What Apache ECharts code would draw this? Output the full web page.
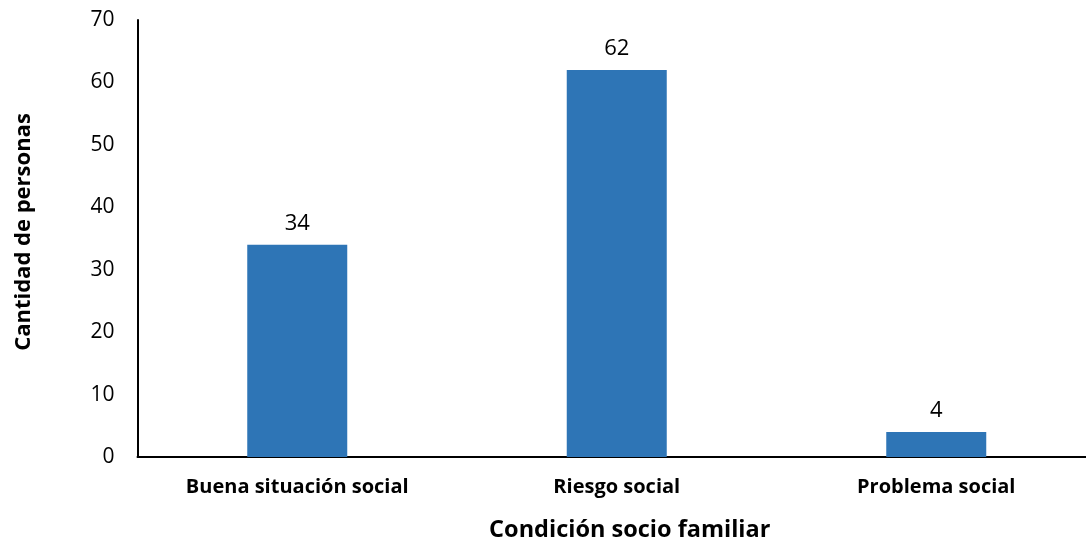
<!DOCTYPE html>
<html><head><meta charset="utf-8">
<script src="https://cdn.jsdelivr.net/npm/echarts@6/dist/echarts.min.js"></script>
<style>html,body{margin:0;padding:0;background:#fff}#c{width:1086px;height:537px}</style>
</head><body><div id="c"></div>
<script>
const categories = ["Buena situación social", "Riesgo social", "Problema social"];
const values = [34, 62, 4];
const yTicks = { min: 0, max: 70, interval: 10 };
const xTitle = "Condición socio familiar";
const yTitle = "Cantidad de personas";

const font = "'Open Sans', sans-serif";
const chart = echarts.init(document.getElementById('c'), null, {renderer: 'canvas'});
chart.setOption({
  animation: false,
  grid: { left: 137.5, right: -10, top: 20, bottom: 80, outerBoundsMode: 'none', containLabel: false },
  xAxis: {
    type: 'category', data: categories,
    name: xTitle, nameLocation: 'middle', nameGap: 61,
    nameTextStyle: { fontFamily: font, fontWeight: 'bold', fontSize: 23.5, color: '#000', padding: [0, 0, 0, 26] },
    axisLine: { lineStyle: { color: '#000', width: 2 } },
    axisTick: { show: false },
    axisLabel: { fontFamily: font, fontWeight: 'bold', fontSize: 20, color: '#000', margin: 20 }
  },
  yAxis: {
    type: 'value', min: yTicks.min, max: yTicks.max, interval: yTicks.interval,
    name: yTitle, nameLocation: 'middle', nameGap: 103, nameRotate: 90,
    nameTextStyle: { fontFamily: font, fontWeight: 'bold', fontSize: 22, color: '#000', padding: [0, 0, 0, 13] },
    axisLine: { show: true, lineStyle: { color: '#000', width: 2 } },
    axisTick: { show: false },
    splitLine: { show: false },
    axisLabel: { fontFamily: font, fontSize: 21, color: '#000', margin: 23 }
  },
  series: [{
    type: 'bar', data: values, barWidth: 100,
    itemStyle: { color: '#2E75B6' },
    label: { show: true, position: 'top', distance: 10, fontFamily: font, fontSize: 22, color: '#000' }
  }]
});
</script></body></html>
